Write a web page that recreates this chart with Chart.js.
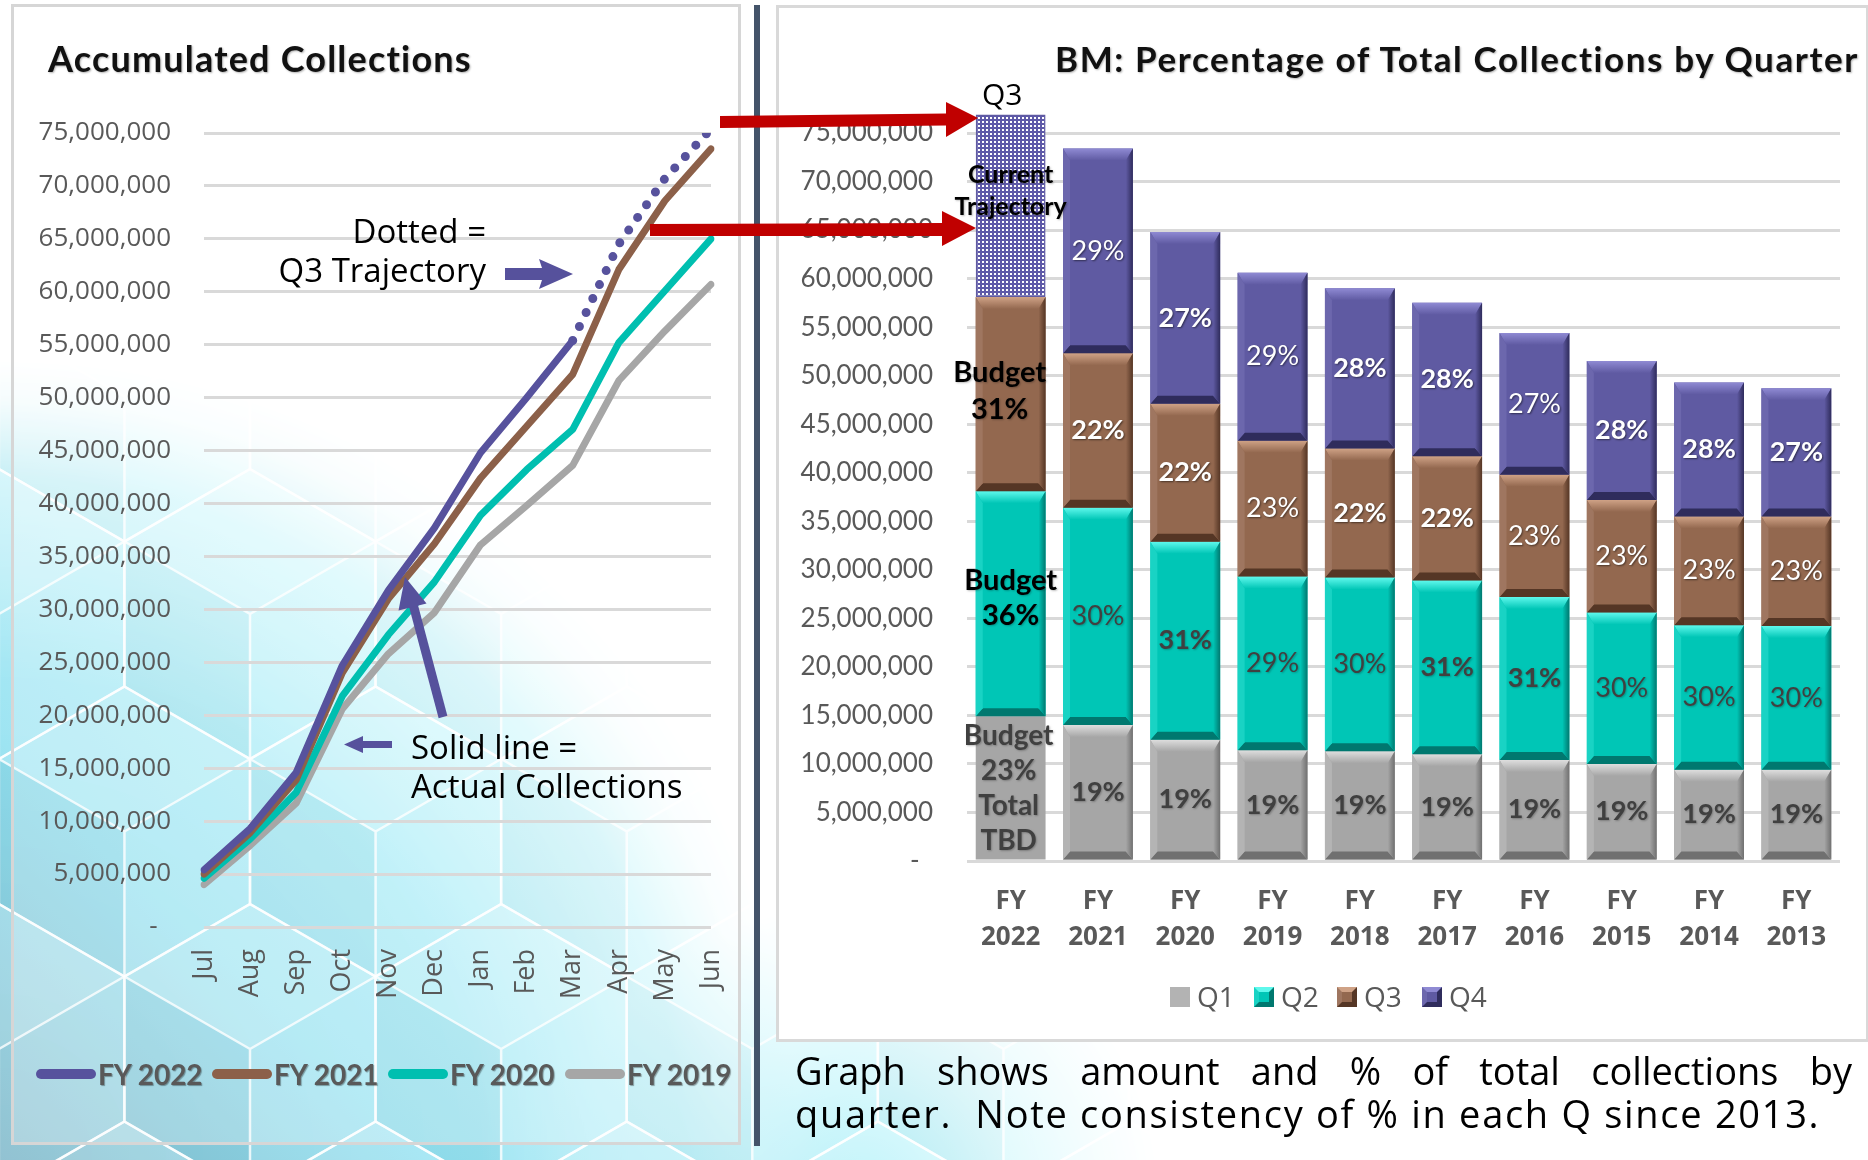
<!DOCTYPE html>
<html>
<head>
<meta charset="utf-8">
<title>Collections</title>
<script src="https://cdn.jsdelivr.net/npm/chart.js@4.4.1/dist/chart.umd.min.js"></script>
<style>
  html, body { margin: 0; padding: 0; }
  body { width: 1868px; height: 1160px; position: relative; overflow: hidden; background: #fff; font-family: 'Open Sans', sans-serif; }
  .abs { position: absolute; white-space: nowrap; }
  canvas { display: block; }
  #leftPanel { left: 11px; top: 4px; width: 724px; height: 1135px; border: 3px solid #d6d6d6; background: rgba(255,255,255,0.25); }
  #divider { left: 754px; top: 5px; width: 6px; height: 1141px; background: #44546a; }
  #rightPanel { left: 776px; top: 5px; width: 1087px; height: 1031px; border: 3px solid #d9d9d9; background: #fff; }
  .title { font-family: Lato, sans-serif; font-weight: bold; color: #111; text-shadow: 1px 1px 2px rgba(0,0,0,0.3); }
  .note { font-family: 'Open Sans', sans-serif; font-size: 33px; line-height: 36px; color: #000; }
  .para { font-family: 'Open Sans', sans-serif; font-size: 38px; line-height: 44px; letter-spacing: 1.7px; color: #000; }
  .lgText { font-family: Lato, sans-serif; font-weight: bold; font-size: 28px; line-height: 32px; color: #595959; text-shadow: 1px 1px 1px rgba(0,0,0,0.35); }
  .swatch { height: 10px; width: 60px; border-radius: 5px; }
  .qText { font-family: 'Open Sans', sans-serif; font-size: 28px; line-height: 32px; color: #595959; }
  .qBox { width: 20px; height: 20px; box-sizing: border-box; border: 5px solid; }
</style>
</head>
<body>
<canvas id="bg" class="abs" width="1868" height="1160" style="left:0;top:0"></canvas>
<div id="leftPanel" class="abs"></div>
<div id="divider" class="abs"></div>
<div id="rightPanel" class="abs"></div>

<div class="abs" style="left:0;top:0"><canvas id="lineChart" width="760" height="1000"></canvas></div>
<div class="abs" style="left:777px;top:0"><canvas id="barChart" width="1091" height="1040"></canvas></div>

<div class="abs title" style="left:48px;top:39px;font-size:36px;line-height:38px;letter-spacing:1.2px">Accumulated Collections</div>
<div class="abs title" style="left:1055px;top:39px;font-size:35px;line-height:38px;letter-spacing:1.6px">BM: Percentage of Total Collections by Quarter</div>

<div class="abs note" style="right:1382px;top:213px;text-align:right">Dotted =</div>
<div class="abs note" style="right:1382px;top:252px;text-align:right">Q3 Trajectory</div>
<div class="abs note" style="left:411px;top:729px">Solid line =</div>
<div class="abs note" style="left:411px;top:768px">Actual Collections</div>
<div class="abs note" style="left:982px;top:76px;font-size:30px">Q3</div>

<div id="lineLegend"></div>
<div id="barLegend"></div>

<div class="abs para" style="left:795px;top:1048px;width:1057px;text-align:justify;text-align-last:justify;white-space:normal;letter-spacing:0">Graph shows amount and % of total collections by</div>
<div class="abs para" style="left:795px;top:1091px">quarter.&nbsp; Note consistency of % in each Q since 2013.</div>

<canvas id="overlay" class="abs" width="1868" height="1160" style="left:0;top:0;pointer-events:none"></canvas>

<script>
// ---------- Accumulated collections by month (millions) ----------
const months = ['Jul', 'Aug', 'Sep', 'Oct', 'Nov', 'Dec', 'Jan', 'Feb', 'Mar', 'Apr', 'May', 'Jun'];
const fy2022 = [5.4, 9.3, 14.6, 24.7, 31.8, 37.7, 44.8, 50.0, 55.4, null, null, null];
const fy2022Trajectory = [null, null, null, null, null, null, null, null, 55.4, 64.5, 70.7, 75.4];
const fy2021 = [5.0, 8.9, 13.9, 24.0, 31.0, 36.2, 42.4, 47.3, 52.2, 62.1, 68.6, 73.5];
const fy2020 = [4.6, 8.3, 12.7, 21.8, 27.6, 32.6, 38.9, 43.2, 47.0, 55.2, 60.1, 65.0];
const fy2019 = [4.0, 7.7, 11.7, 20.6, 25.8, 29.7, 36.1, 39.8, 43.6, 51.6, 56.3, 60.7];
const lineSeriesNames = ['FY 2022', 'FY 2021', 'FY 2020', 'FY 2019'];

// ---------- Collections by quarter (millions) ----------
const fiscalYears = ['FY 2022', 'FY 2021', 'FY 2020', 'FY 2019', 'FY 2018', 'FY 2017', 'FY 2016', 'FY 2015', 'FY 2014', 'FY 2013'];
const quarterNames = ['Q1', 'Q2', 'Q3', 'Q4'];
const q1 = [14.9, 14.0, 12.5, 11.4, 11.3, 11.0, 10.4, 10.0, 9.4, 9.4];
const q2 = [23.2, 22.4, 20.4, 17.9, 17.9, 17.9, 16.8, 15.6, 14.9, 14.8];
const q3 = [20.0, 15.9, 14.2, 14.0, 13.3, 12.8, 12.6, 11.6, 11.2, 11.3];
const q4 = [18.8, 21.1, 17.7, 17.3, 16.5, 15.8, 14.6, 14.3, 13.8, 13.2];
const q1Labels = ['Budget\n23%\nTotal\nTBD', '19%', '19%', '19%', '19%', '19%', '19%', '19%', '19%', '19%'];
const q2Labels = ['Budget\n36%', '30%', '31%', '29%', '30%', '31%', '31%', '30%', '30%', '30%'];
const q3Labels = ['Budget\n31%', '22%', '22%', '23%', '22%', '22%', '23%', '23%', '23%', '23%'];
const q4Labels = ['Current\nTrajectory', '29%', '27%', '29%', '28%', '28%', '27%', '28%', '28%', '27%'];

const M = 1e6;
const toUnits = arr => arr.map(v => v === null ? null : v * M);

// ---------- styles ----------
const lineColors = ['#57529d', '#8c6049', '#00bfb0', '#a6a6a6'];
const quarterColors = [
  { base: '#a6a6a6', light: '#dedede', dark: '#707070', side: '#b4b4b4' },
  { base: '#00c6b6', light: '#5ff8ec', dark: '#00786f', side: '#19d3c4' },
  { base: '#93684f', light: '#cfa286', dark: '#553625', side: '#9f7660' },
  { base: '#5f5aa2', light: '#8f8ad3', dark: '#2f2c5c', side: '#6c67ad' }
];
const flatBars = [[0], [], [], [0]];
const labelStyle = {
  color: ['#404040', '#404040', '#ffffff', '#ffffff'],
  bold: [[1, 2, 3, 4, 5, 6, 7, 8, 9], [2, 5, 6], [1, 2, 4, 5], [2, 4, 5, 7, 8, 9]],
  firstColor: ['#404040', '#000000', '#000000', '#000000'],
  firstSize: [28, 29, 29, 25],
  firstLine: [35, 35, 37, 32],
  firstDx: [-2, 0, -11, 0],
  firstDy: [1, -6, -3, -15]
};

// ---------- backdrop: faceted hexagon texture fading from the lower left ----------
function fillPoly(ctx, pts, style) {
  ctx.beginPath();
  pts.forEach((p, i) => i ? ctx.lineTo(p[0], p[1]) : ctx.moveTo(p[0], p[1]));
  ctx.closePath();
  ctx.fillStyle = style;
  ctx.fill();
}
function drawBackdrop() {
  const cv = document.getElementById('bg');
  const ctx = cv.getContext('2d');
  ctx.fillStyle = '#fff';
  ctx.fillRect(0, 0, cv.width, cv.height);

  const off = document.createElement('canvas');
  off.width = cv.width; off.height = cv.height;
  const o = off.getContext('2d');
  const g = o.createLinearGradient(0, 1160, 700, 450);
  g.addColorStop(0, '#86bccd');
  g.addColorStop(0.3, '#8ee0f0');
  g.addColorStop(0.65, '#aef2fa');
  g.addColorStop(1, '#e4fbfd');
  o.fillStyle = g;
  o.fillRect(0, 0, off.width, off.height);

  const R = 145, W = R * Math.sqrt(3);
  for (let k = -4; k < 6; k++) {
    for (let j = -2; j < 9; j++) {
      const cx = 250 + j * W + (Math.abs(k) % 2 ? W / 2 : 0);
      const cy = 614 + k * 1.5 * R;
      const top = [cx, cy - R], ur = [cx + W / 2, cy - R / 2], lr = [cx + W / 2, cy + R / 2];
      const bot = [cx, cy + R], ll = [cx - W / 2, cy + R / 2], ul = [cx - W / 2, cy - R / 2], c = [cx, cy];
      fillPoly(o, [top, ur, c, ul], 'rgba(255,255,255,0.20)');
      fillPoly(o, [c, ur, lr, bot], 'rgba(255,255,255,0.10)');
      fillPoly(o, [ul, c, bot, ll], 'rgba(20,70,100,0.05)');
      o.beginPath();
      o.moveTo(top[0], top[1]);
      [ur, lr, bot, ll, ul, top].forEach(p => o.lineTo(p[0], p[1]));
      o.moveTo(c[0], c[1]); o.lineTo(bot[0], bot[1]);
      o.moveTo(c[0], c[1]); o.lineTo(ur[0], ur[1]);
      o.moveTo(c[0], c[1]); o.lineTo(ul[0], ul[1]);
      o.strokeStyle = 'rgba(255,255,255,0.8)';
      o.lineWidth = 2.5;
      o.stroke();
    }
  }

  const mask = document.createElement('canvas');
  mask.width = cv.width; mask.height = cv.height;
  const m = mask.getContext('2d');
  let rg = m.createRadialGradient(0, 1160, 0, 0, 1160, 800);
  rg.addColorStop(0, 'rgba(0,0,0,1)');
  rg.addColorStop(0.6, 'rgba(0,0,0,0.95)');
  rg.addColorStop(0.85, 'rgba(0,0,0,0.55)');
  rg.addColorStop(0.95, 'rgba(0,0,0,0.1)');
  rg.addColorStop(1, 'rgba(0,0,0,0)');
  m.fillStyle = rg;
  m.fillRect(0, 0, mask.width, mask.height);
  rg = m.createRadialGradient(860, 1200, 0, 860, 1200, 300);
  rg.addColorStop(0, 'rgba(0,0,0,0.9)');
  rg.addColorStop(1, 'rgba(0,0,0,0)');
  m.fillStyle = rg;
  m.fillRect(0, 0, mask.width, mask.height);

  o.globalCompositeOperation = 'destination-in';
  o.drawImage(mask, 0, 0);
  ctx.drawImage(off, 0, 0);
}

// ---------- bar decoration: bevelled faces and data labels ----------
function drawBevel(ctx, l, r, t, b, c) {
  const bx = 7, bt = 12, bb = 8;
  const gt = ctx.createLinearGradient(0, t, 0, t + bt);
  gt.addColorStop(0, c.light);
  gt.addColorStop(1, c.base);
  fillPoly(ctx, [[l, t], [r, t], [r - bx, t + bt], [l + bx, t + bt]], gt);
  fillPoly(ctx, [[l, b], [r, b], [r - bx, b - bb], [l + bx, b - bb]], c.dark);
  const gr = ctx.createLinearGradient(r - bx, 0, r, 0);
  gr.addColorStop(0, c.base);
  gr.addColorStop(1, c.dark);
  fillPoly(ctx, [[r, t], [r, b], [r - bx, b - bb], [r - bx, t + bt]], gr);
  fillPoly(ctx, [[l, t], [l, b], [l + bx, b - bb], [l + bx, t + bt]], c.side);
}

const quarterLabels = [q1Labels, q2Labels, q3Labels, q4Labels];

const barDecor = {
  id: 'barDecor',
  afterDatasetsDraw(chart) {
    const ctx = chart.ctx;
    ctx.save();
    chart.data.datasets.forEach((ds, di) => {
      chart.getDatasetMeta(di).data.forEach((el, i) => {
        if (flatBars[di].includes(i)) return;
        const p = el.getProps(['x', 'y', 'base', 'width'], true);
        drawBevel(ctx, p.x - p.width / 2, p.x + p.width / 2, Math.min(p.y, p.base), Math.max(p.y, p.base), quarterColors[di]);
      });
    });
    ctx.textAlign = 'center';
    ctx.textBaseline = 'middle';
    chart.data.datasets.forEach((ds, di) => {
      chart.getDatasetMeta(di).data.forEach((el, i) => {
        const text = quarterLabels[di][i];
        if (!text) return;
        const p = el.getProps(['x', 'y', 'base'], true);
        const lines = text.split('\n');
        const first = i === 0;
        const size = first ? labelStyle.firstSize[di] : 27;
        const lh = first ? labelStyle.firstLine[di] : 34;
        const bold = first || labelStyle.bold[di].includes(i);
        ctx.font = (bold ? 'bold ' : '') + size + 'px Lato';
        ctx.fillStyle = first ? labelStyle.firstColor[di] : labelStyle.color[di];
        ctx.shadowColor = labelStyle.color[di] === '#ffffff' && !first ? 'rgba(0,0,0,0.5)' : 'rgba(0,0,0,0.25)';
        ctx.shadowOffsetX = 1; ctx.shadowOffsetY = 1; ctx.shadowBlur = 2;
        const cx = p.x + (first ? labelStyle.firstDx[di] : 0);
        const cy = (p.y + p.base) / 2 + (first ? labelStyle.firstDy[di] : 0);
        lines.forEach((ln, k) => ctx.fillText(ln, cx, cy + (k - (lines.length - 1) / 2) * lh));
      });
    });
    ctx.restore();
  }
};

function trajectoryPattern() {
  const tile = document.createElement('canvas');
  tile.width = 4; tile.height = 4;
  const t = tile.getContext('2d');
  t.fillStyle = '#5e59a8';
  t.fillRect(0, 0, 4, 4);
  t.fillStyle = '#ffffff';
  t.fillRect(1, 1, 2, 2);
  return document.createElement('canvas').getContext('2d').createPattern(tile, 'repeat');
}

const moneyTick = pad => v => v === 0 ? '-' + pad : v.toLocaleString('en-US');

// ---------- line chart ----------
function buildLineChart() {
  const series = [fy2022, fy2021, fy2020, fy2019];
  const datasets = series.map((s, i) => ({
    label: lineSeriesNames[i],
    data: toUnits(s),
    borderColor: lineColors[i],
    borderWidth: 7,
    pointRadius: 0,
    tension: 0,
    borderJoinStyle: 'round',
    borderCapStyle: 'round'
  }));
  datasets.push({
    label: 'FY 2022 trajectory',
    data: toUnits(fy2022Trajectory),
    borderColor: lineColors[0],
    borderWidth: 9,
    pointRadius: 0,
    tension: 0,
    borderDash: [0, 15.5],
    borderCapStyle: 'round'
  });
  new Chart(document.getElementById('lineChart'), {
    type: 'line',
    data: { labels: months, datasets },
    options: {
      responsive: false, animation: false, devicePixelRatio: 1,
      layout: { padding: { left: 0, top: 133, right: 49, bottom: 0 } },
      plugins: { legend: { display: false }, tooltip: { enabled: false } },
      scales: {
        x: {
          offset: false,
          grid: { display: false },
          border: { display: false },
          ticks: { padding: 14, color: '#595959', minRotation: 90, maxRotation: 90, autoSkip: false,
                   font: { family: 'Open Sans', size: 27 } },
          afterFit(s) { s.height = 73; }
        },
        y: {
          min: 0, max: 75 * M,
          grid: { color: '#d9d9d9', lineWidth: 3, drawTicks: false },
          border: { display: false },
          ticks: { stepSize: 5 * M, padding: 33, color: '#595959', callback: moneyTick('  '),
                   font: { family: 'Open Sans', size: 26 } },
          afterFit(s) { s.width = 204; }
        }
      }
    }
  });
}

// ---------- stacked bar chart ----------
function buildBarChart() {
  const pattern = trajectoryPattern();
  const series = [q1, q2, q3, q4];
  const datasets = series.map((s, di) => ({
    label: quarterNames[di],
    data: toUnits(s),
    backgroundColor: s.map((v, i) => (di === 3 && i === 0) ? pattern : quarterColors[di].base),
    borderColor: quarterColors[di].base,
    borderWidth: s.map((v, i) => (di === 3 && i === 0) ? 1.5 : 0),
    borderSkipped: false
  }));
  new Chart(document.getElementById('barChart'), {
    type: 'bar',
    data: { labels: fiscalYears, datasets },
    options: {
      responsive: false, animation: false, devicePixelRatio: 1,
      layout: { padding: { left: 0, top: 133, right: 28, bottom: 0 } },
      plugins: { legend: { display: false }, tooltip: { enabled: false } },
      datasets: { bar: { categoryPercentage: 1, barPercentage: 0.8, clip: false } },
      scales: {
        x: {
          stacked: true,
          grid: { display: false },
          border: { display: false },
          ticks: { padding: 14, color: '#595959', maxRotation: 0, autoSkip: false,
                   font: { family: 'Open Sans', size: 26, weight: 'bold', lineHeight: 1.4 },
                   callback: (v, i) => fiscalYears[i].split(' ') },
          afterFit(s) { s.height = 179; }
        },
        y: {
          stacked: true, min: 0, max: 75 * M,
          grid: { color: '#d9d9d9', lineWidth: 3, drawTicks: false },
          border: { display: false },
          ticks: { stepSize: 5 * M, padding: 34, color: '#595959', callback: moneyTick('  '),
                   font: { family: 'Lato', size: 26 } },
          afterFit(s) { s.width = 190; }
        }
      }
    },
    plugins: [barDecor]
  });
}

// ---------- legends ----------
function buildLegends() {
  const lineLegend = document.getElementById('lineLegend');
  const swatchX = [36, 212, 388, 565];
  lineSeriesNames.forEach((name, i) => {
    const sw = document.createElement('div');
    sw.className = 'abs swatch';
    sw.style.left = swatchX[i] + 'px';
    sw.style.top = '1069px';
    sw.style.background = lineColors[i];
    lineLegend.appendChild(sw);
    const tx = document.createElement('div');
    tx.className = 'abs lgText';
    tx.style.left = (swatchX[i] + 62) + 'px';
    tx.style.top = '1058px';
    tx.textContent = name;
    lineLegend.appendChild(tx);
  });

  const barLegend = document.getElementById('barLegend');
  const boxX = [1170, 1254, 1337, 1422];
  quarterNames.forEach((name, i) => {
    const c = quarterColors[i];
    const box = document.createElement('div');
    box.className = 'abs qBox';
    box.style.left = boxX[i] + 'px';
    box.style.top = '987px';
    if (i === 0) {
      box.style.border = 'none';
      box.style.background = '#b3b3b3';
    } else {
      box.style.background = c.base;
      box.style.borderTopColor = c.light;
      box.style.borderLeftColor = c.side;
      box.style.borderRightColor = c.dark;
      box.style.borderBottomColor = c.dark;
    }
    barLegend.appendChild(box);
    const tx = document.createElement('div');
    tx.className = 'abs qText';
    tx.style.left = (boxX[i] + 27) + 'px';
    tx.style.top = '980px';
    tx.textContent = name;
    barLegend.appendChild(tx);
  });
}

// ---------- pointer arrows ----------
function drawPointers() {
  const ctx = document.getElementById('overlay').getContext('2d');
  const red = '#c00000', purple = '#56519c';
  fillPoly(ctx, [[720, 116], [946, 113.5], [946, 102], [978, 118], [946, 137], [946, 125.5], [720, 128]], red);
  fillPoly(ctx, [[650, 224], [942, 223], [942, 211], [976, 228], [942, 246], [942, 236], [650, 236]], red);
  fillPoly(ctx, [[505, 268], [542, 268], [539, 259], [573, 274], [539, 289], [542, 280], [505, 280]], purple);
  fillPoly(ctx, [[392, 741], [363, 741], [363, 736], [344, 744.5], [363, 753], [363, 748], [392, 748]], purple);
  ctx.strokeStyle = purple;
  ctx.lineWidth = 9;
  ctx.beginPath();
  ctx.moveTo(443, 717);
  ctx.lineTo(413, 604);
  ctx.stroke();
  fillPoly(ctx, [[405, 577], [398.5, 610.5], [426.5, 603.5]], purple);
}

drawBackdrop();
buildLineChart();
buildBarChart();
buildLegends();
drawPointers();
</script>
</body>
</html>
